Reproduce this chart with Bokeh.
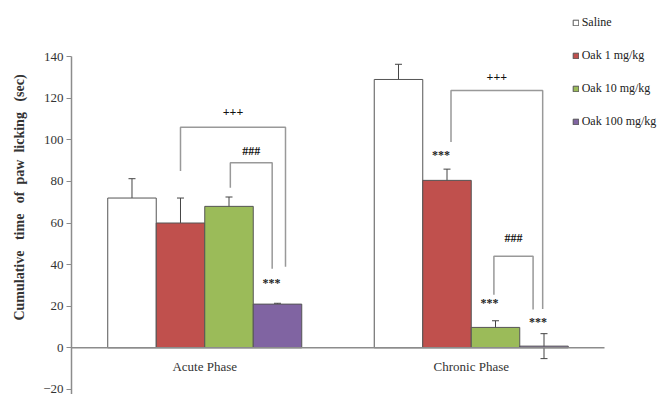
from bokeh.plotting import figure
from bokeh.models import (Range1d, FixedTicker, ColumnDataSource, Whisker, TeeHead,
                          Legend, LegendItem)
from bokeh.core.properties import value
from bokeh.embed import file_html
from bokeh.resources import INLINE

# ---------------- data ----------------
phases = ["Acute Phase", "Chronic Phase"]
treatments = ["Saline", "Oak 1 mg/kg", "Oak 10 mg/kg", "Oak 100 mg/kg"]
acute_mean = [72, 60, 68, 21]
acute_err = [9.3, 12, 4.5, 0.4]
chronic_mean = [129, 80.5, 9.8, 0.8]
chronic_err = [7.3, 5.4, 3.2, 6]
y_ticks = [-20, 0, 20, 40, 60, 80, 100, 120, 140]
y_label = "Cumulative\u00a0\u00a0 time\u00a0\u00a0 of\u00a0 paw\u00a0 licking\u00a0\u00a0 (sec)"

# significance stars: (phase index, treatment index, text, y)
stars = [(0, 3, "***", 31), (1, 1, "***", 92.6), (1, 2, "***", 21.6), (1, 3, "***", 12.2)]
# brackets: (phase, from treatment, to treatment, left foot, top, right foot, text, text y)
brackets = [
    (0, 1, 3, 85, 106, 39, "+++", 113.3),
    (0, 2, 3, 77, 89, 38, "###", 94.5),
    (1, 1, 3, 99, 123.7, 18.7, "+++", 130),
    (1, 2, 3, 25.5, 44, 18.4, "###", 52.7),
]
# small horizontal nudges of bracket feet (data units)
bracket_dx = [(0.0, 0.03), (0.005, -0.02), (0.015, -0.005), (-0.006, -0.041)]

colors = ["#FFFFFF", "#C0504D", "#9BBB59", "#8064A2"]
means = [acute_mean, chronic_mean]
errs = [acute_err, chronic_err]

bar_w = 0.182
def bar_x(g, i):
    return g + 0.5 + (i - 1.5) * bar_w

SERIF = value("Liberation Serif")

p = figure(width=658, height=394, output_backend="svg", toolbar_location=None,
           x_range=Range1d(0, 2.2026), y_range=Range1d(-22.45, 166.97),
           x_axis_location=None, min_border_left=71, min_border_right=0,
           min_border_top=0, min_border_bottom=0)
p.outline_line_color = None
p.grid.visible = False
p.background_fill_color = "white"

ax = p.yaxis[0]
ax.ticker = FixedTicker(ticks=y_ticks)
ax.bounds = (-30, 140)
ax.axis_line_color = "#8c8c8c"
ax.axis_line_width = 1.5
ax.major_tick_line_color = "#8c8c8c"
ax.major_tick_out = 5
ax.major_tick_in = 0
ax.minor_tick_line_color = None
ax.major_label_standoff = 3
ax.major_label_text_font = "Liberation Serif"
ax.major_label_text_font_size = "13px"
ax.major_label_text_color = "#333333"
ax.axis_label = y_label
ax.axis_label_text_font = "Liberation Serif"
ax.axis_label_text_font_size = "14px"
ax.axis_label_text_font_style = "bold"
ax.axis_label_text_color = "#333333"
ax.axis_label_standoff = 13

# bars
legend_items = []
for i, t in enumerate(treatments):
    src = ColumnDataSource(dict(x=[bar_x(g, i) for g in range(2)],
                                top=[means[g][i] for g in range(2)]))
    r = p.vbar(x="x", top="top", bottom=0, width=bar_w, source=src,
               fill_color=colors[i], line_color="#555555", line_width=1)
    legend_items.append(LegendItem(label=t, renderers=[r]))

# zero line
p.line(x=[0, 2], y=[0, 0], line_color="#8c8c8c", line_width=1.5)

# error bars
ex, eu, el = [], [], []
for g in range(2):
    for i in range(4):
        ex.append(bar_x(g, i))
        eu.append(means[g][i] + errs[g][i])
        el.append(means[g][i] - errs[g][i])
esrc = ColumnDataSource(dict(x=ex, upper=eu, lower=el))
p.add_layout(Whisker(base="x", upper="upper", lower="lower", source=esrc,
                     line_color="#444444", line_width=1,
                     upper_head=TeeHead(size=7, line_color="#444444", line_width=1),
                     lower_head=TeeHead(size=7, line_color="#444444", line_width=1)))

# brackets
for (g, a, b, yl, yt, yr, txt, ty), (dl, dr) in zip(brackets, bracket_dx):
    xl = bar_x(g, a) + dl
    xr = bar_x(g, b) + dr
    p.line(x=[xl, xl, xr, xr], y=[yl, yt, yt, yr], line_color="#999999", line_width=1.5)
    p.text(x=[(xl + xr) / 2], y=[ty], text=[txt], text_font=SERIF, text_font_size="12px",
           text_font_style="bold", text_color="#111111", text_align="center",
           text_baseline="middle")

# stars
p.text(x=[bar_x(g, i) for g, i, _, _ in stars], y=[s[3] for s in stars],
       text=[s[2] for s in stars], text_font=SERIF, text_font_size="12px",
       text_font_style="bold", text_color="#222222", text_align="center",
       text_baseline="middle", x_offset=-6)

# category labels
p.text(x=[g + 0.5 for g in range(2)], y=[0, 0], text=phases, text_font=SERIF,
       text_font_size="13px", text_color="#333333", text_align="center",
       text_baseline="middle", y_offset=19)

legend = Legend(items=legend_items, location=(500.7, 262.7), orientation="vertical")
legend.border_line_color = None
legend.background_fill_alpha = 0
legend.padding = 0
legend.margin = 0
legend.spacing = 13
legend.label_height = 20
legend.glyph_height = 7
legend.glyph_width = 7
legend.label_standoff = 3
legend.label_text_font = "Liberation Serif"
legend.label_text_font_size = "12px"
legend.label_text_color = "#222222"
p.add_layout(legend, "center")

open("out.html", "w").write(file_html(p, INLINE))
